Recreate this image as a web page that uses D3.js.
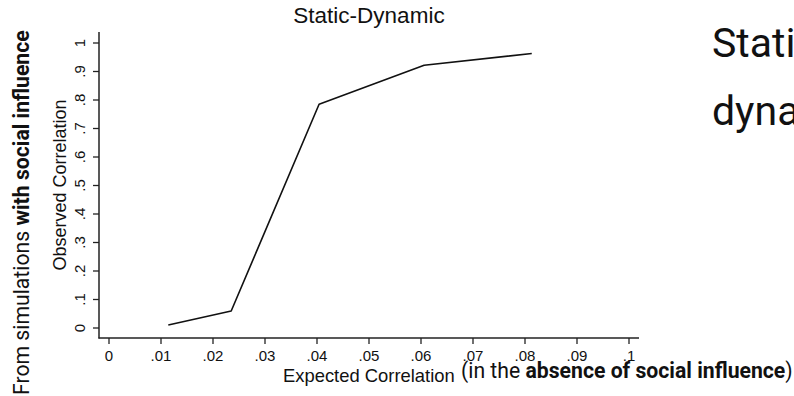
<!DOCTYPE html>
<html>
<head>
<meta charset="utf-8">
<script src="https://cdn.jsdelivr.net/npm/d3@7"></script>
<style>
  html, body { margin: 0; padding: 0; background: #fff; overflow: hidden; }
  svg { display: block; }
</style>
</head>
<body>
<svg id="chart" width="794" height="396"></svg>
<script>
// Expected vs observed correlation, static-dynamic condition
const expectedCorr = [0.0114, 0.0235, 0.0404, 0.0606, 0.0813];
const observedCorr = [0.0105, 0.0596, 0.785, 0.922, 0.963];
const xTicks = [0, 0.01, 0.02, 0.03, 0.04, 0.05, 0.06, 0.07, 0.08, 0.09, 0.1];
const yTicks = [0, 0.1, 0.2, 0.3, 0.4, 0.5, 0.6, 0.7, 0.8, 0.9, 1];

// Stata style: drop the leading zero (.05, .1)
const stataFmt = d => String(+d.toFixed(2)).replace(/^0\./, '.');

const svg = d3.select('#chart');
const helv = '"Liberation Sans", Arial, Helvetica, sans-serif';
const roboto = 'Roboto, "Noto Sans", sans-serif';

// plot region
const plot = { left: 99, right: 639, top: 32, bottom: 338 };

const x = d3.scaleLinear().domain([0, 0.1]).range([109, 629]);
const y = d3.scaleLinear().domain([0, 1]).range([328, 43]);

// Axes lines
svg.append('line')
  .attr('x1', plot.left).attr('x2', plot.left)
  .attr('y1', plot.top).attr('y2', plot.bottom + 0.5)
  .attr('stroke', '#222').attr('stroke-width', 1.5);
svg.append('line')
  .attr('x1', plot.left - 0.5).attr('x2', plot.right)
  .attr('y1', plot.bottom).attr('y2', plot.bottom)
  .attr('stroke', '#222').attr('stroke-width', 1.5);

// Y ticks + rotated labels
const yAxis = svg.append('g');
yTicks.forEach(t => {
  yAxis.append('line')
    .attr('x1', plot.left - 6).attr('x2', plot.left)
    .attr('y1', y(t)).attr('y2', y(t))
    .attr('stroke', '#222').attr('stroke-width', 1.3);
  yAxis.append('text')
    .attr('transform', `translate(85, ${y(t)}) rotate(-90)`)
    .attr('text-anchor', 'middle')
    .attr('font-family', helv).attr('font-size', '15px').attr('fill', '#111')
    .text(stataFmt(t));
});

// X ticks + labels
const xAxis = svg.append('g');
xTicks.forEach(t => {
  xAxis.append('line')
    .attr('x1', x(t)).attr('x2', x(t))
    .attr('y1', plot.bottom).attr('y2', plot.bottom + 6)
    .attr('stroke', '#222').attr('stroke-width', 1.3);
  xAxis.append('text')
    .attr('x', x(t)).attr('y', 361)
    .attr('text-anchor', 'middle')
    .attr('font-family', helv).attr('font-size', '15px').attr('fill', '#111')
    .text(stataFmt(t));
});

// The line
const pts = expectedCorr.map((v, i) => [v, observedCorr[i]]);
svg.append('path')
  .datum(pts)
  .attr('fill', 'none').attr('stroke', '#111').attr('stroke-width', 1.6)
  .attr('stroke-linejoin', 'round')
  .attr('d', d3.line().x(d => x(d[0])).y(d => y(d[1])));

// Title
svg.append('text')
  .attr('x', (plot.left + plot.right) / 2).attr('y', 23)
  .attr('text-anchor', 'middle')
  .attr('font-family', helv).attr('font-size', '22.5px').attr('fill', '#111')
  .text('Static-Dynamic');

// Axis titles
svg.append('text')
  .attr('transform', `translate(66, ${(plot.top + plot.bottom) / 2}) rotate(-90)`)
  .attr('text-anchor', 'middle')
  .attr('font-family', helv).attr('font-size', '18px').attr('fill', '#111')
  .text('Observed Correlation');

svg.append('text')
  .attr('x', 283).attr('y', 382)
  .attr('font-family', helv).attr('font-size', '18.4px').attr('fill', '#111')
  .text('Expected Correlation');

// Annotations in Roboto
const xNote = svg.append('text')
  .attr('x', 461).attr('y', 378)
  .attr('font-family', roboto).attr('font-size', '21.2px').attr('fill', '#111');
xNote.append('tspan').text('(in the ');
xNote.append('tspan').attr('font-weight', 'bold').text('absence of social influence');
xNote.append('tspan').text(')');

const yNote = svg.append('text')
  .attr('transform', 'translate(29, 395) rotate(-90)')
  .attr('font-family', roboto).attr('font-size', '21.2px').attr('fill', '#111');
yNote.append('tspan').text('From simulations ');
yNote.append('tspan').attr('font-weight', 'bold').text('with social influence');

// Slide text on the right, cut off by the frame edge
svg.append('text')
  .attr('x', 712).attr('y', 57)
  .attr('font-family', roboto).attr('font-size', '41px').attr('fill', '#111')
  .text('Static-');
svg.append('text')
  .attr('x', 712).attr('y', 125)
  .attr('font-family', roboto).attr('font-size', '41px').attr('fill', '#111')
  .text('dynamic');
</script>
</body>
</html>
